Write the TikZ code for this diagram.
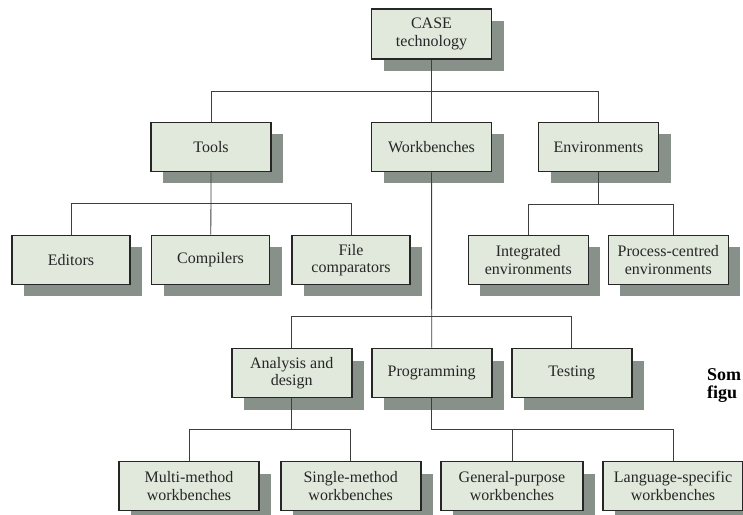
\documentclass[tikz,border=0pt]{standalone}
\usepackage{fontspec}
\setmainfont{Liberation Serif}
\usepackage{tikz}
\usetikzlibrary{shadows}
\definecolor{boxgreen}{RGB}{224,233,219}
\definecolor{shadowgrey}{RGB}{135,145,138}
\definecolor{edgegrey}{RGB}{62,62,62}
\tikzstyle{box} = [draw=black!85, line width=1.6pt, fill=boxgreen, align=center, minimum width=120pt, minimum height=49pt, inner sep=2pt, text=black!85, font=\fontsize{16}{17.5}\selectfont, drop shadow={shadow xshift=12pt, shadow yshift=-12pt, fill=shadowgrey, opacity=1}]
\tikzstyle{widebox} = [box, minimum width=140pt]
\tikzstyle{link} = [edgegrey, line width=0.9pt]

\begin{document}
\begin{tikzpicture}[x=1pt, y=1pt]
            \useasboundingbox (0,0) rectangle (743,514);

            % Root
            \node (case) at (431.5,480) [box, minimum height=50pt] {CASE\\technology};

            % First level
            \node (tools) at (211,367) [box] {Tools};
            \node (work) at (431.5,367) [box] {Workbenches};
            \node (env) at (598.5,367) [box] {Environments};

            % Tools and environments
            \node (editors) at (71,254) [box, minimum width=118pt] {Editors};
            \node (compilers) at (210.5,254) [box, minimum width=118pt] {Compilers};
            \node (filecomp) at (351,254) [box, minimum width=118pt] {File\\comparators};
            \node (integ) at (528.3,254) [box] {Integrated\\environments};
            \node (proc) at (668.3,254) [box] {Process-centred\\environments};

            % Workbenches
            \node (analysis) at (291.7,141) [box] {Analysis and\\design};
            \node (prog) at (431.7,141) [box] {Programming};
            \node (testing) at (571.7,141) [box] {Testing};

            % Bottom row
            \node (multi) at (189,28) [widebox] {Multi-method\\workbenches};
            \node (single) at (350.7,28) [widebox] {Single-method\\workbenches};
            \node (general) at (512,28) [widebox, minimum width=142pt] {General-purpose\\workbenches};
            \node (lang) at (673,28) [widebox] {Language-specific\\workbenches};

            % Junctions
            \coordinate (j0) at (431.5,423);
            \coordinate (j1) at (211,311);
            \coordinate (j2) at (598.5,310);
            \coordinate (j3) at (431.7,198);
            \coordinate (j4) at (291.7,85);
            \coordinate (j5) at (431.7,85);

            % Draw the tree lines
            \draw[link] (case) -- (j0) -- (work);
            \draw[link] (j0) -| (tools);
            \draw[link] (j0) -| (env);
            \draw[link] (tools) -- (j1) -- (compilers);
            \draw[link] (j1) -| (editors);
            \draw[link] (j1) -| (filecomp);
            \draw[link] (env) -- (j2) -| (integ);
            \draw[link] (j2) -| ([xshift=5pt]proc.north);
            \draw[link] (work) -- (j3) -- (prog);
            \draw[link] (j3) -| (analysis);
            \draw[link] (j3) -| (testing);
            \draw[link] (analysis) -- (j4) -| (multi);
            \draw[link] (j4) -| (single);
            \draw[link] (prog) -- (j5) -| (general);
            \draw[link] (j5) -| (lang);

            % Cut-off caption on the right
            \node (cap1) at (707,134) [anchor=base west, inner sep=0pt, font=\bfseries\fontsize{18}{18}\selectfont] {Som};
            \node (cap2) at (707,116) [anchor=base west, inner sep=0pt, font=\bfseries\fontsize{18}{18}\selectfont] {figu};
        \end{tikzpicture}
\end{document}
